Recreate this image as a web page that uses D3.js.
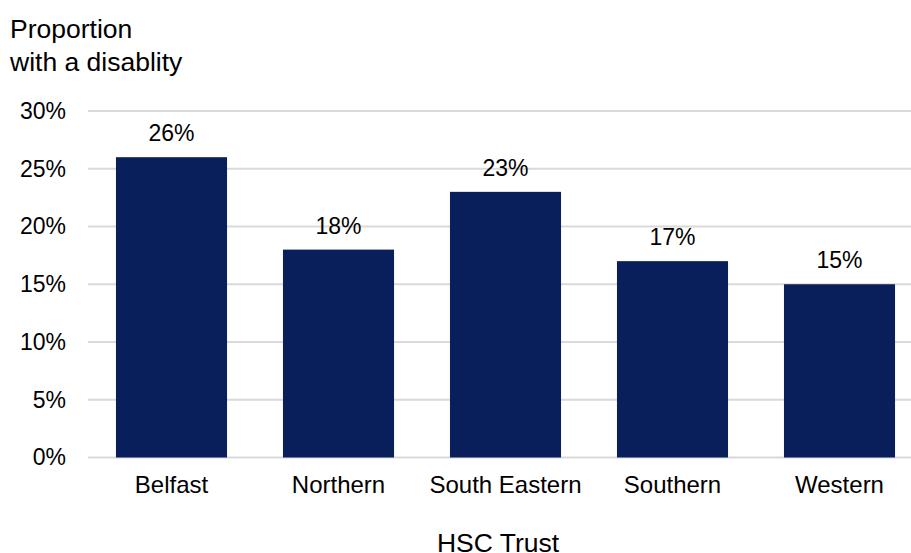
<!DOCTYPE html>
<html>
<head>
<meta charset="utf-8">
<script src="https://cdn.jsdelivr.net/npm/d3@7"></script>
<style>
  html, body { margin: 0; padding: 0; background: #ffffff; }
  svg { display: block; font-family: "Liberation Sans", Arial, sans-serif; }
</style>
</head>
<body>
<svg id="chart" width="911" height="553"></svg>
<script>
// HSC Trust disability proportions
const trusts = ["Belfast", "Northern", "South Eastern", "Southern", "Western"];
const proportions = [26, 18, 23, 17, 15];
const yTicks = [0, 5, 10, 15, 20, 25, 30];

const width = 911, height = 553;
const margin = { left: 88, right: -12, top: 111, bottom: 95.5 };
const tickFont = 23;
const categoryFont = 24;
const valueFont = 23;
const titleFont = 26.5;
const barColor = "#081f5c";
const gridColor = "#d9d9d9";

const svg = d3.select("#chart");

const x = d3.scaleBand()
  .domain(trusts)
  .range([margin.left, width - margin.right])
  .paddingInner(0.335)
  .paddingOuter(0.1675);

const y = d3.scaleLinear()
  .domain([0, 30])
  .range([height - margin.bottom, margin.top]);

// Gridlines
svg.append("g")
  .selectAll("line")
  .data(yTicks)
  .join("line")
  .attr("x1", margin.left)
  .attr("x2", width)
  .attr("y1", d => y(d))
  .attr("y2", d => y(d))
  .attr("stroke", gridColor)
  .attr("stroke-width", 2);

// Y axis tick labels
const yAxis = d3.axisLeft(y)
  .tickValues(yTicks)
  .tickFormat(d => d + "%")
  .tickSize(0)
  .tickPadding(0);

svg.append("g")
  .attr("transform", `translate(66,0)`)
  .call(yAxis)
  .call(g => g.select(".domain").remove())
  .call(g => g.selectAll("text")
    .attr("font-size", tickFont)
    .attr("font-family", "Liberation Sans, Arial, sans-serif")
    .attr("fill", "#000"));

// Bars
svg.append("g")
  .selectAll("rect")
  .data(trusts)
  .join("rect")
  .attr("x", d => x(d))
  .attr("width", x.bandwidth())
  .attr("y", (d, i) => y(proportions[i]))
  .attr("height", (d, i) => y(0) - y(proportions[i]))
  .attr("fill", barColor);

// Value labels
svg.append("g")
  .selectAll("text")
  .data(trusts)
  .join("text")
  .attr("x", d => x(d) + x.bandwidth() / 2)
  .attr("y", (d, i) => y(proportions[i]) - 16)
  .attr("text-anchor", "middle")
  .attr("font-size", valueFont)
  .attr("fill", "#000")
  .text((d, i) => proportions[i] + "%");

// X axis category labels
const xAxis = d3.axisBottom(x).tickSize(0).tickPadding(0);
svg.append("g")
  .attr("transform", `translate(0,${y(0)})`)
  .call(xAxis)
  .call(g => g.select(".domain").remove())
  .call(g => g.selectAll("text")
    .attr("dy", null)
    .attr("y", 35.5)
    .attr("font-size", categoryFont)
    .attr("font-family", "Liberation Sans, Arial, sans-serif")
    .attr("fill", "#000"));

// Axis titles
svg.append("text")
  .attr("x", 10)
  .attr("y", 38)
  .attr("font-size", titleFont)
  .attr("fill", "#000")
  .text("Proportion");
svg.append("text")
  .attr("x", 10)
  .attr("y", 70.5)
  .attr("font-size", titleFont)
  .attr("fill", "#000")
  .text("with a disablity");

svg.append("text")
  .attr("x", 498)
  .attr("y", 552)
  .attr("text-anchor", "middle")
  .attr("font-size", titleFont)
  .attr("fill", "#000")
  .text("HSC Trust");
</script>
</body>
</html>
